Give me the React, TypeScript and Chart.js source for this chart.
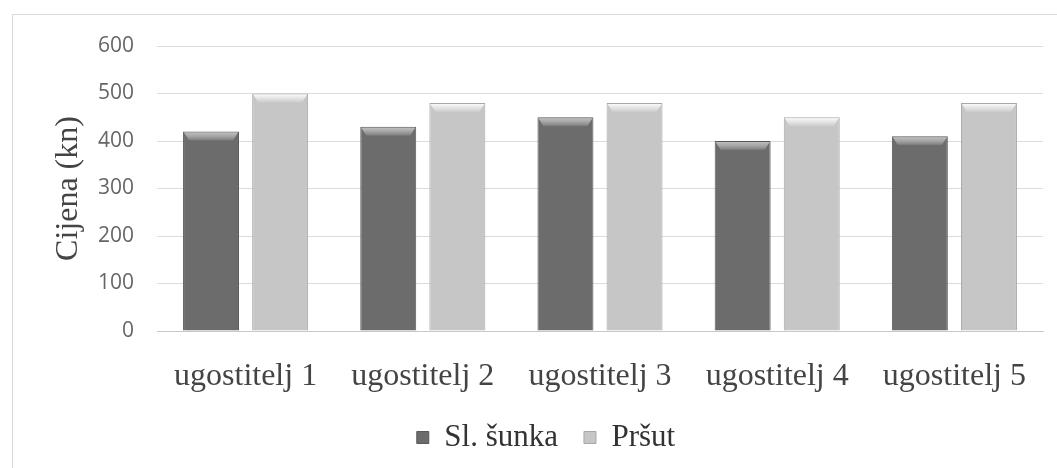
import React, { useEffect, useRef } from "react";
import { Chart, registerables } from "chart.js";

Chart.register(...registerables);

const categories = ["ugostitelj 1", "ugostitelj 2", "ugostitelj 3", "ugostitelj 4", "ugostitelj 5"];
const sunkaValues = [420, 430, 450, 400, 410];
const prsutValues = [500, 480, 480, 450, 480];
const seriesNames = ["Sl. šunka", "Pršut"];
const yTicks = [0, 100, 200, 300, 400, 500, 600];
const yTitle = "Cijena (kn)";

const serif = "'Liberation Serif', 'Times New Roman', serif";
const sans = "'Open Sans', 'Liberation Sans', sans-serif";

const bevelPlugin = {
  id: "bevel",
  afterDatasetsDraw(chart: any) {
    const ctx = chart.ctx;
    chart.data.datasets.forEach((ds: any, i: number) => {
      const meta = chart.getDatasetMeta(i);
      meta.data.forEach((bar: any) => {
        const { x, y, width } = bar.getProps(["x", "y", "width"], true);
        const left = x - width / 2;
        const g = ctx.createLinearGradient(0, y, 0, y + 10);
        g.addColorStop(0, i === 0 ? "rgba(200,200,200,0.9)" : "rgba(255,255,255,1)");
        g.addColorStop(1, "rgba(255,255,255,0)");
        ctx.save();
        ctx.fillStyle = g;
        ctx.beginPath();
        ctx.moveTo(left + 1, y + 1);
        ctx.lineTo(left + width - 1, y + 1);
        ctx.lineTo(left + width - 6, y + 9);
        ctx.lineTo(left + 6, y + 9);
        ctx.closePath();
        ctx.fill();
        ctx.restore();
      });
    });
  },
};

export default function App() {
  const ref = useRef<HTMLCanvasElement>(null);
  useEffect(() => {
    if (!ref.current) return;
    Chart.defaults.font.family = serif;
    const chart = new Chart(ref.current, {
      type: "bar",
      data: {
        labels: categories,
        datasets: [
          {
            label: seriesNames[0],
            data: sunkaValues,
            backgroundColor: "#6c6c6c",
            borderColor: "#585858",
            borderWidth: 1,
            categoryPercentage: 0.78,
            barPercentage: 0.81,
          },
          {
            label: seriesNames[1],
            data: prsutValues,
            backgroundColor: "#c6c6c6",
            borderColor: "#a8a8a8",
            borderWidth: 1,
            categoryPercentage: 0.78,
            barPercentage: 0.81,
          },
        ],
      },
      options: {
        animation: false,
        responsive: false,
        maintainAspectRatio: false,
        font: { family: serif },
        layout: { padding: { left: 36, right: 14, top: 31, bottom: 5 } },
        plugins: {
          legend: {
            position: "bottom",
            labels: {
              font: { family: serif, size: 31, weight: "normal" },
              color: "#333333",
              boxWidth: 12,
              boxHeight: 12,
              padding: 26,
            },
          },
          tooltip: { enabled: false },
        },
        scales: {
          x: {
            grid: { display: false, drawTicks: false },
            border: { color: "#c8c8c8" },
            afterFit(axis: any) {
              axis.height = 65;
            },
            ticks: {
              font: { family: serif, size: 32 },
              color: "#444444",
              padding: 26,
            },
          },
          y: {
            min: 0,
            max: 600,
            afterBuildTicks(axis: any) {
              axis.ticks = yTicks.map((v) => ({ value: v }));
            },
            afterFit(axis: any) {
              axis.width = 108;
              axis.paddingTop = 0;
              axis.paddingBottom = 0;
            },
            grid: { color: "#dcdcdc", drawTicks: false },
            border: { display: false },
            ticks: {
              font: { family: sans, size: 21 },
              color: "#666666",
              padding: 23,
            },
            title: {
              display: true,
              text: yTitle,
              font: { family: serif, size: 32 },
              color: "#444444",
              padding: { top: 0, bottom: 2 },
            },
          },
        },
      },
      plugins: [bevelPlugin],
    });
    return () => chart.destroy();
  }, []);
  return (
    <div
      style={{
        position: "absolute",
        left: 12,
        top: 14,
        width: 1045,
        height: 454,
        borderLeft: "1px solid #d9d9d9",
        borderTop: "1px solid #d9d9d9",
        overflow: "hidden",
        background: "#fff",
      }}
    >
      <canvas ref={ref} width={1044} height={453} style={{ display: "block" }} />
    </div>
  );
}
